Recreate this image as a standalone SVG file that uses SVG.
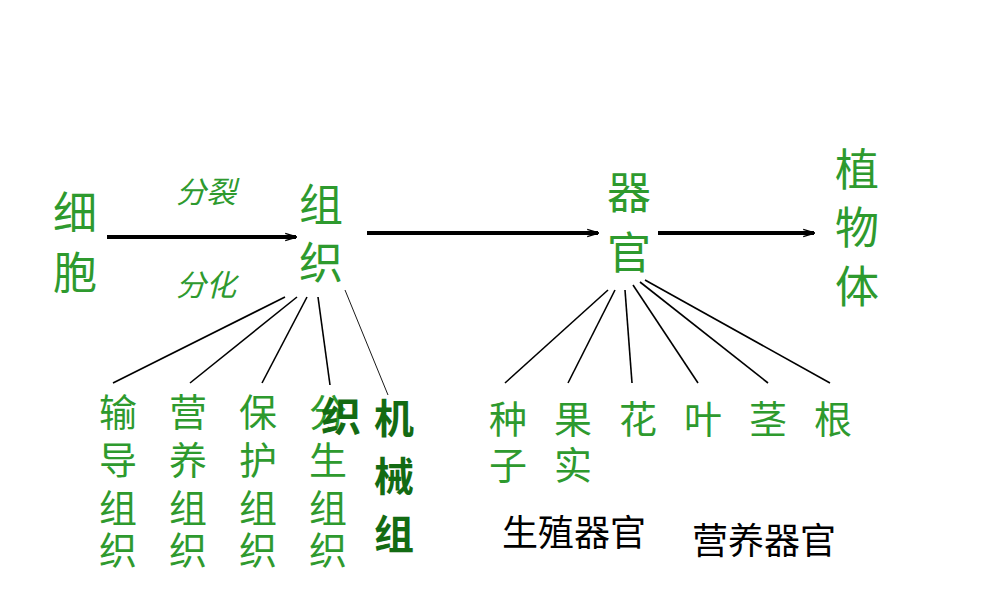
<svg xmlns="http://www.w3.org/2000/svg" width="1000" height="600" viewBox="0 0 1000 600">
<style>
text{font-family:"Noto Sans CJK SC",sans-serif}
.g{fill:#2e9a2e;font-size:44px}
.s{fill:#2e9a2e;font-size:38px}
.i{fill:#2e9a2e;font-size:30px;font-style:italic}
.b{fill:#136b13;font-size:40px;font-weight:bold}
.k{fill:#000;font-size:36px}
.th{stroke:#000;stroke-width:4;fill:none}
.ln{stroke:#000;stroke-width:1.6;fill:none}
</style>
<defs><marker id="a" viewBox="0 0 10 10" refX="9" refY="5" markerWidth="3" markerHeight="3" orient="auto"><path d="M0,2 L10,5 L0,8" fill="none" stroke="#000" stroke-width="1.2"/></marker></defs>
<g id="conn">
<line class="th" x1="107" y1="237" x2="296" y2="237" marker-end="url(#a)"/>
<line class="th" x1="367" y1="233" x2="598" y2="233" marker-end="url(#a)"/>
<line class="th" x1="658" y1="233" x2="814" y2="233" marker-end="url(#a)"/>
<line class="ln" x1="285" y1="297" x2="113" y2="383"/>
<line class="ln" x1="297" y1="297" x2="190" y2="383"/>
<line class="ln" x1="307" y1="297" x2="262" y2="383"/>
<line class="ln" x1="318" y1="297" x2="330" y2="385"/>
<line x1="345" y1="290" x2="388" y2="395" stroke="#000" stroke-width="0.9"/>
<line class="ln" x1="608" y1="290" x2="505" y2="383"/>
<line class="ln" x1="615" y1="290" x2="568" y2="383"/>
<line class="ln" x1="625" y1="290" x2="632" y2="383"/>
<line class="ln" x1="633" y1="285" x2="698" y2="383"/>
<line class="ln" x1="640" y1="282" x2="768" y2="383"/>
<line class="ln" x1="645" y1="280" x2="830" y2="383"/>
<text class="i" x="176" y="203">分裂</text>
<text class="i" x="176" y="296">分化</text>
</g>
<g id="cell"><text class="g" x="53" y="229">细</text><text class="g" x="53" y="289">胞</text></g>
<g id="tissue"><text class="g" x="299" y="221">组</text><text class="g" x="299" y="279">织</text></g>
<g id="organ"><text class="g" x="607" y="209">器</text><text class="g" x="607" y="269">官</text></g>
<g id="plant"><text class="g" x="835" y="186">植</text><text class="g" x="835" y="244">物</text><text class="g" x="835" y="303">体</text></g>
<g id="t1"><text class="s" x="99" y="426">输</text><text class="s" x="99" y="474">导</text><text class="s" x="99" y="522">组</text><text class="s" x="99" y="564">织</text></g>
<g id="t2"><text class="s" x="169" y="426">营</text><text class="s" x="169" y="474">养</text><text class="s" x="169" y="522">组</text><text class="s" x="169" y="564">织</text></g>
<g id="t3"><text class="s" x="239" y="426">保</text><text class="s" x="239" y="474">护</text><text class="s" x="239" y="522">组</text><text class="s" x="239" y="564">织</text></g>
<g id="t4"><text class="s" x="309" y="426">分</text><text class="s" x="309" y="474">生</text><text class="s" x="309" y="522">组</text><text class="s" x="309" y="564">织</text></g>
<g id="t5"><text class="b" x="321" y="431">织</text><text class="b" x="374" y="433">机</text><text class="b" x="374" y="491">械</text><text class="b" x="374" y="549">组</text></g>
<g id="o1"><text class="s" x="489" y="433">种</text><text class="s" x="489" y="479">子</text></g>
<g id="o2"><text class="s" x="554" y="433">果</text><text class="s" x="554" y="479">实</text></g>
<g id="o3"><text class="s" x="619" y="433">花</text></g>
<g id="o4"><text class="s" x="684" y="433">叶</text></g>
<g id="o5"><text class="s" x="749" y="433">茎</text></g>
<g id="o6"><text class="s" x="814" y="433">根</text></g>
<g id="rep"><text class="k" x="502" y="546">生殖器官</text></g>
<g id="veg"><text class="k" x="692" y="554">营养器官</text></g>
</svg>
